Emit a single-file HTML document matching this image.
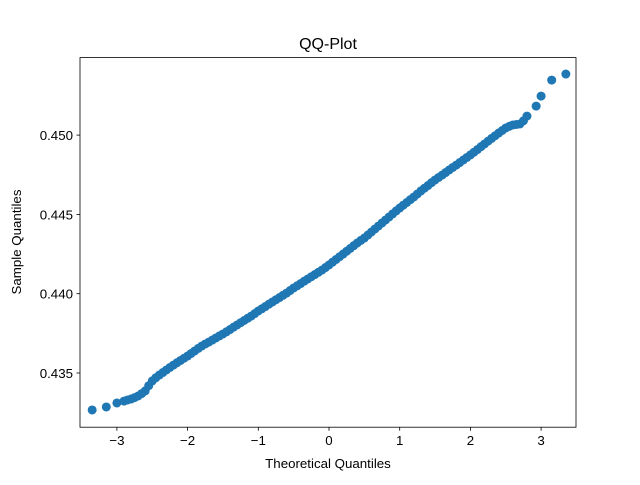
<!DOCTYPE html>
<html><head><meta charset="utf-8"><style>
body{margin:0;background:#fff}
svg text{font-family:"Liberation Sans",sans-serif;fill:#000}
</style></head><body>
<svg id="chart" width="640" height="480">
<rect width="640" height="480" fill="#fff"/>
<text x="328" y="49" font-size="16" text-anchor="middle">QQ-Plot</text>
<g id="marks"></g>
<g id="axes"></g>
<rect x="80" y="57.6" width="496" height="369.6" fill="none" stroke="#000" stroke-width="0.8"/>
<text x="328" y="468" font-size="13.3" text-anchor="middle">Theoretical Quantiles</text>
<text transform="translate(21,242) rotate(-90)" font-size="13.3" text-anchor="middle">Sample Quantiles</text>
</svg>
<script>
const theoretical=[-3.35,-3.15,-3.0,-2.9,-2.8,-2.7,-2.6,-2.5,-2.4,-2.3,-2.2,-2.1,-2.0,-1.9,-1.8,-1.7,-1.6,-1.5,-1.4,-1.3,-1.2,-1.1,-1.0,-0.9,-0.8,-0.7,-0.6,-0.5,-0.4,-0.3,-0.2,-0.1,0,0.1,0.2,0.3,0.4,0.5,0.6,0.7,0.8,0.9,1.0,1.1,1.2,1.3,1.4,1.5,1.6,1.7,1.8,1.9,2.0,2.1,2.2,2.3,2.4,2.5,2.6,2.7,2.8,2.93,3.0,3.15,3.35,
-2.85,-2.75,-2.65,-2.55,-2.45,-2.35,-2.25,-2.15,-2.05,-1.95,-1.85,-1.75,-1.65,-1.55,-1.45,-1.35,-1.25,-1.15,-1.05,-0.95,-0.85,-0.75,-0.65,-0.55,-0.45,-0.35,-0.25,-0.15,-0.05,0.05,0.15,0.25,0.35,0.45,0.55,0.65,0.75,0.85,0.95,1.05,1.15,1.25,1.35,1.45,1.55,1.65,1.75,1.85,1.95,2.05,2.15,2.25,2.35,2.45,2.55,2.65,2.75];
const sample=[0.43267,0.43286,0.43311,0.43323,0.43336,0.43355,0.43387,0.43450,0.43487,0.43519,0.43550,0.43579,0.43607,0.43639,0.43670,0.43695,0.43721,0.43746,0.43774,0.43803,0.43831,0.43859,0.43891,0.43919,0.43948,0.43976,0.44004,0.44036,0.44064,0.44093,0.44121,0.44149,0.44181,0.44216,0.44250,0.44285,0.44320,0.44351,0.44389,0.44427,0.44465,0.44503,0.44540,0.44575,0.44610,0.44648,0.44682,0.44717,0.44748,0.44780,0.44811,0.44843,0.44875,0.44909,0.44944,0.44979,0.45013,0.45045,0.45064,0.45070,0.45120,0.45183,0.45246,0.45347,0.45385,
0.43330,0.43345,0.43370,0.43420,0.43470,0.43503,0.43535,0.43565,0.43593,0.43623,0.43655,0.43683,0.43708,0.43734,0.43760,0.43789,0.43817,0.43845,0.43875,0.43905,0.43934,0.43962,0.43990,0.44020,0.44050,0.44079,0.44107,0.44135,0.44165,0.44199,0.44233,0.44268,0.44303,0.44336,0.44370,0.44408,0.44446,0.44484,0.44522,0.44558,0.44593,0.44629,0.44665,0.44700,0.44733,0.44764,0.44796,0.44827,0.44859,0.44892,0.44927,0.44962,0.44996,0.45029,0.45055,0.45067,0.45090];
const xTicks=[-3,-2,-1,0,1,2,3];
const xTickLabels=["−3","−2","−1","0","1","2","3"];
const yTicks=[0.435,0.440,0.445,0.450];
const yTickLabels=["0.435","0.440","0.445","0.450"];
const NS="http://www.w3.org/2000/svg";
function xs(v){return 329+v*70.7;}
function ys(v){return 373-(v-0.435)/0.005*79.3;}
const marks=document.getElementById('marks');
for(let i=0;i<theoretical.length;i++){
  const c=document.createElementNS(NS,'circle');
  c.setAttribute('cx',xs(theoretical[i]));c.setAttribute('cy',ys(sample[i]));
  c.setAttribute('r',4.5);c.setAttribute('fill','#1f77b4');
  
  
  marks.appendChild(c);
}
const axes=document.getElementById('axes');
xTicks.forEach((t,i)=>{
  const x=xs(t);
  const l=document.createElementNS(NS,'line');
  l.setAttribute('x1',x);l.setAttribute('x2',x);l.setAttribute('y1',427.2);l.setAttribute('y2',430.7);l.setAttribute('stroke','#000');l.setAttribute('stroke-width','0.8');
  
  
  axes.appendChild(l);
  const tx=document.createElementNS(NS,'text');
  tx.setAttribute('x',x);tx.setAttribute('y',445);tx.setAttribute('font-size','13.3');tx.setAttribute('text-anchor','middle');
  tx.textContent=xTickLabels[i];
  
  
  axes.appendChild(tx);
});
yTicks.forEach((t,i)=>{
  const y=ys(t);
  const l=document.createElementNS(NS,'line');
  l.setAttribute('x1',76.5);l.setAttribute('x2',80);l.setAttribute('y1',y);l.setAttribute('y2',y);l.setAttribute('stroke','#000');l.setAttribute('stroke-width','0.8');
  
  
  axes.appendChild(l);
  const tx=document.createElementNS(NS,'text');
  tx.setAttribute('x',73);tx.setAttribute('y',y+5);tx.setAttribute('font-size','13.3');tx.setAttribute('text-anchor','end');
  tx.textContent=yTickLabels[i];
  
  
  axes.appendChild(tx);
});
</script>
</body></html>
